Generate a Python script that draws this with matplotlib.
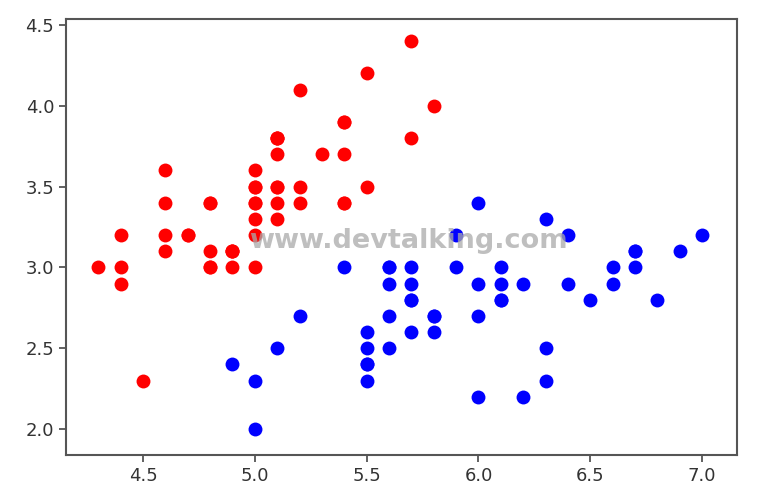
import matplotlib.pyplot as plt
import numpy as np

# iris setosa: sepal length / sepal width
setosa_x = [5.1, 4.9, 4.7, 4.6, 5.0, 5.4, 4.6, 5.0, 4.4, 4.9, 5.4, 4.8, 4.8, 4.3, 5.8, 5.7, 5.4,
            5.1, 5.7, 5.1, 5.4, 5.1, 4.6, 5.1, 4.8, 5.0, 5.0, 5.2, 5.2, 4.7, 4.8, 5.4, 5.2, 5.5,
            4.9, 5.0, 5.5, 4.9, 4.4, 5.1, 5.0, 4.5, 4.4, 5.0, 5.1, 4.8, 5.1, 4.6, 5.3, 5.0]
setosa_y = [3.5, 3.0, 3.2, 3.1, 3.6, 3.9, 3.4, 3.4, 2.9, 3.1, 3.7, 3.4, 3.0, 3.0, 4.0, 4.4, 3.9,
            3.5, 3.8, 3.8, 3.4, 3.7, 3.6, 3.3, 3.4, 3.0, 3.4, 3.5, 3.4, 3.2, 3.1, 3.4, 4.1, 4.2,
            3.1, 3.2, 3.5, 3.1, 3.0, 3.4, 3.5, 2.3, 3.2, 3.5, 3.8, 3.0, 3.8, 3.2, 3.7, 3.3]

# iris versicolor
versi_x = [7.0, 6.4, 6.9, 5.5, 6.5, 5.7, 6.3, 4.9, 6.6, 5.2, 5.0, 5.9, 6.0, 6.1, 5.6, 6.7, 5.6,
           5.8, 6.2, 5.6, 5.9, 6.1, 6.3, 6.1, 6.4, 6.6, 6.8, 6.7, 6.0, 5.7, 5.5, 5.5, 5.8, 6.0,
           5.4, 6.0, 6.7, 6.3, 5.6, 5.5, 5.5, 6.1, 5.8, 5.0, 5.6, 5.7, 5.7, 6.2, 5.1, 5.7]
versi_y = [3.2, 3.2, 3.1, 2.3, 2.8, 2.8, 3.3, 2.4, 2.9, 2.7, 2.0, 3.0, 2.2, 2.9, 2.9, 3.1, 3.0,
           2.7, 2.2, 2.5, 3.2, 2.8, 2.5, 2.8, 2.9, 3.0, 2.8, 3.0, 2.9, 2.6, 2.4, 2.4, 2.7, 2.7,
           3.0, 3.4, 3.1, 2.3, 3.0, 2.5, 2.6, 3.0, 2.6, 2.3, 2.7, 3.0, 2.9, 2.9, 2.5, 2.8]

fig = plt.figure(figsize=(7.6, 5), dpi=100)
ax = fig.add_axes([66 / 760, 45 / 500, 671 / 760, 436 / 500])

ax.scatter(setosa_x, setosa_y, c='red', s=100, linewidths=0)
ax.scatter(versi_x, versi_y, c='blue', s=100, linewidths=0)

ax.set_xlim(4.156, 7.156)
ax.set_ylim(1.839, 4.537)
ax.set_xticks(np.arange(4.5, 7.01, 0.5))
ax.set_yticks(np.arange(2.0, 4.51, 0.5))

for s in ax.spines.values():
    s.set_linewidth(1.5)
    s.set_color('#555555')
ax.tick_params(labelsize=13, length=5, width=1.3, color='#555555', labelcolor='#333333')

# watermark
fig.text(0.537, 0.517, 'www.devtalking.com', fontsize=19.5, fontweight='bold',
         color='#aaaaaa', alpha=0.75, ha='center', va='center')

fig.savefig('out.png', dpi=100)
